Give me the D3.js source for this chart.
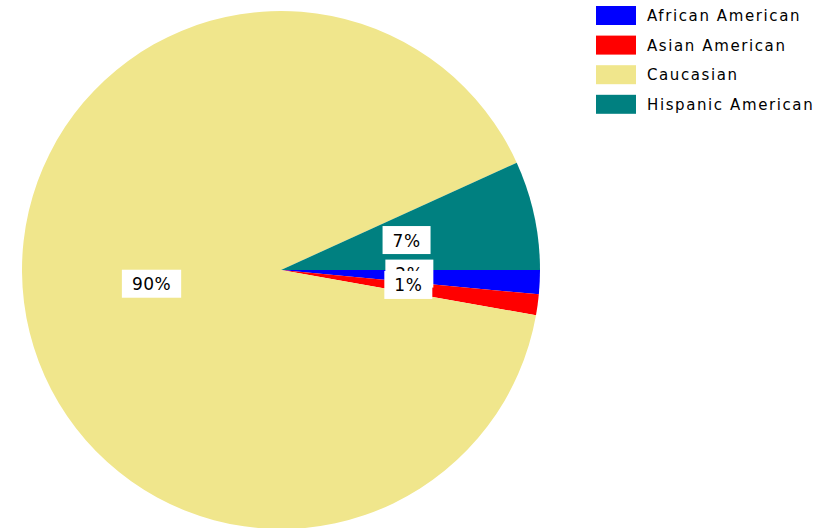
<!DOCTYPE html>
<html><head><meta charset="utf-8">
<script src="https://cdn.jsdelivr.net/npm/d3@7"></script>
<style>html,body{margin:0;padding:0;background:#fff;}svg{display:block;}</style>
</head><body>
<svg id="chart" width="829" height="528"></svg>
<script>
const categories = ["African American", "Asian American", "Caucasian", "Hispanic American"];
const values = [1.5, 1.3, 90.4, 6.8];
const labels = ["2%", "1%", "90%", "7%"];
const colors = ["#0000FF", "#FF0000", "#F0E68C", "#008080"];

const svg = d3.select("#chart");
const cx = 281, cy = 270, r = 259;
const g = svg.append("g").attr("transform", `translate(${cx},${cy})`);

const pie = d3.pie().sort(null).value(d => d.v)
  .startAngle(Math.PI / 2).endAngle(Math.PI / 2 + 2 * Math.PI);
const data = categories.map((c, i) => ({c, v: values[i], l: labels[i], col: colors[i]}));
const arcs = pie(data);
const arc = d3.arc().innerRadius(0).outerRadius(r);
const labelArc = d3.arc().innerRadius(r * 0.5).outerRadius(r * 0.5);

g.selectAll("path.slice").data(arcs).enter().append("path")
  .attr("class", "slice").attr("d", arc).attr("fill", d => d.data.col);

const lab = g.selectAll("g.lab").data(arcs).enter().append("g")
  .attr("class", "lab").attr("transform", d => {
    const [x, y] = labelArc.centroid(d);
    return `translate(${x - 1},${y - 2.5})`;
  });
lab.each(function(d) {
  const s = d3.select(this);
  const t = s.append("text").attr("text-anchor", "middle").attr("dy", "0.38em")
    .attr("font-family", "DejaVu Sans, Verdana, sans-serif").attr("font-size", 17)
    .attr("letter-spacing", 0.5)
    .attr("fill", "#000").text(d.data.l);
  const bb = t.node().getBBox();
  s.insert("rect", "text").attr("x", bb.x - 10).attr("y", -14)
    .attr("width", bb.width + 20).attr("height", 28).attr("fill", "#fff");
});

const legend = svg.append("g").attr("transform", "translate(596,6)");
const li = legend.selectAll("g").data(data).enter().append("g")
  .attr("transform", (d, i) => `translate(0,${i * 29.6})`);
li.append("rect").attr("width", 40).attr("height", 19).attr("fill", d => d.col);
li.append("text").attr("x", 51).attr("y", 15)
  .attr("font-family", "DejaVu Sans, Verdana, sans-serif").attr("font-size", 15)
  .attr("letter-spacing", 1.6)
  .attr("fill", "#000").text(d => d.c);
</script>
</body></html>
